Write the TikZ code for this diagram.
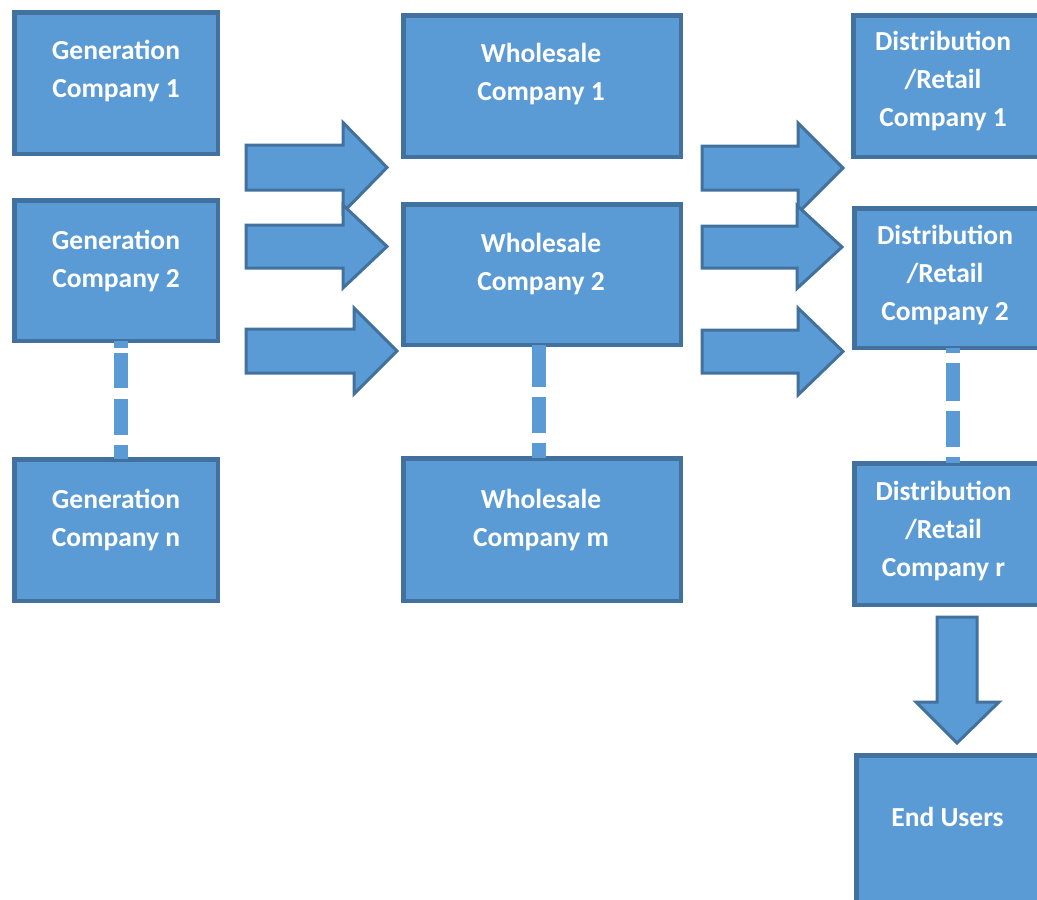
\documentclass[tikz,border=0pt]{standalone}
\usepackage{fontspec}
\setmainfont{Carlito}
\usetikzlibrary{calc}
\definecolor{boxfill}{HTML}{5B9BD5}
\definecolor{boxline}{HTML}{41719C}

% company box from its outer edges: name, left, top, right, bottom (y grows downwards)
\newcommand\companybox[5]{%
  \node[box, minimum width={#4-#2-4.5}, minimum height={#5-#3-4.5}]
    (#1) at ({(#2+#4)/2},{-(#3+#5)/2}) {};}
% block arrow pointing right: shaft start, head start, tip, centre line, shaft half, head half
\newcommand\rightblock[6]{%
  \draw[blockarrow] (#1,{-(#4-#5)}) -- (#2,{-(#4-#5)}) -- (#2,{-(#4-#6)}) -- (#3,{-#4})
    -- (#2,{-(#4+#6)}) -- (#2,{-(#4+#5)}) -- (#1,{-(#4+#5)}) -- cycle;}

\begin{document}
\begin{tikzpicture}[x=1pt,y=1pt,
  box/.style={rectangle, draw=boxline, fill=boxfill, line width=4.5pt, inner sep=0pt, outer sep=0pt},
  lbl/.style={text=white, font=\fontsize{27.5}{38}\selectfont\bfseries, align=center, inner sep=0pt},
  blockarrow/.style={draw=boxline, fill=boxfill, line width=3pt, line join=miter},
  dashlink/.style={draw=boxfill, line width=14pt}]
\useasboundingbox (0,0) rectangle (1037,-900);
\clip (0,0) rectangle (1037,-900);

% arrows from generation to wholesale
\rightblock{246}{343}{387}{167.5}{22.5}{45}
\rightblock{246}{343}{387}{246.5}{21.5}{41.5}
\rightblock{246}{354}{397}{351}{22}{43}
% arrows from wholesale to distribution
\rightblock{702}{798}{843}{168}{22}{45}
\rightblock{702}{797}{842}{247}{21}{41.5}
\rightblock{702}{798}{843}{351.5}{21.5}{43.5}
% arrow down to the end users
\draw[blockarrow] (937,-617) -- (977,-617) -- (977,-702) -- (999,-702) -- (957,-743)
  -- (916,-702) -- (937,-702) -- cycle;

% companies (the right column runs past the page edge)
\companybox{g1}{12}{10}{220}{156}
\companybox{g2}{12}{198}{220}{343}
\companybox{gn}{12}{457}{220}{603}
\companybox{w1}{401}{13}{683}{159}
\companybox{w2}{401}{202}{683}{347}
\companybox{wm}{401}{456}{683}{603}
\companybox{d1}{851}{13}{1060}{159}
\companybox{d2}{852}{206}{1060}{350}
\companybox{dr}{852}{461}{1060}{607}
\companybox{eu}{854}{753}{1060}{915}

% dashed links between the first and last company of a column
\draw[dashlink, dash pattern=on 7pt off 5pt on 35pt off 11pt on 36pt off 10pt on 30pt]
  ($(g2.south)+(5,0)$) -- ($(gn.north)+(5,0)$);
\draw[dashlink, dash pattern=on 42pt off 10pt on 36pt off 10pt on 30pt]
  ($(w2.south)+(-3,0)$) -- ($(wm.north)+(-3,0)$);
\draw[dashlink, dash pattern=on 5pt off 10pt on 38pt off 10pt on 36pt off 10pt on 20pt]
  ($(d2.south)+(-3,0)$) -- ($(dr.north)+(-3,0)$);

% labels
\node[lbl] (g1t) at (116,-71) {Generation\\Company 1};
\node[lbl] (g2t) at (116,-261) {Generation\\Company 2};
\node[lbl] (gnt) at (116,-520) {Generation\\Company n};
\node[lbl] (w1t) at (541,-74) {Wholesale\\Company 1};
\node[lbl] (w2t) at (541,-264) {Wholesale\\Company 2};
\node[lbl] (wmt) at (541,-520) {Wholesale\\Company m};
\node[lbl] (d1t) at (943,-81) {Distribution\\/Retail\\Company 1};
\node[lbl] (d2t) at (945,-275) {Distribution\\/Retail\\Company 2};
\node[lbl] (drt) at (943.5,-531) {Distribution\\/Retail\\Company r};
\node[lbl] (eut) at (947.5,-817) {End Users};
\end{tikzpicture}
\end{document}
